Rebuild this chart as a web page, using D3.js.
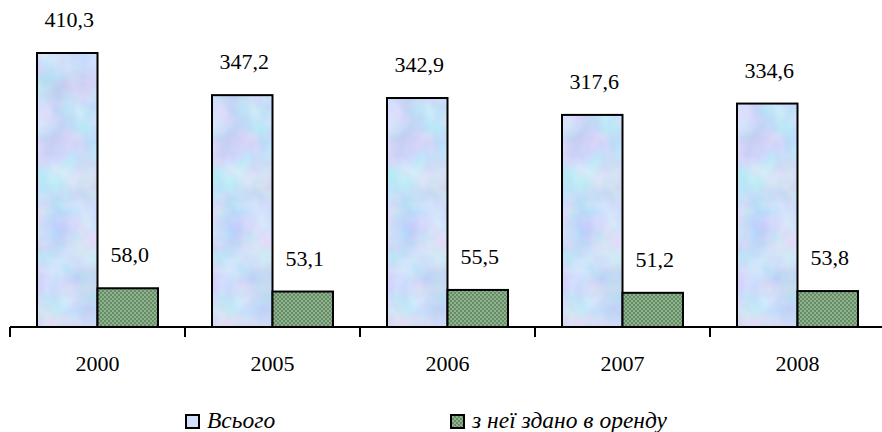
<!DOCTYPE html>
<html>
<head>
<meta charset="utf-8">
</head>
<body style="margin:0; font-family: 'Liberation Serif', 'Times New Roman', serif;">
<script src="https://d3js.org/d3.v7.min.js"></script>
<script>
const years = ['2000', '2005', '2006', '2007', '2008'];
const totalValues = [410.3, 347.2, 342.9, 317.6, 334.6];
const rentedValues = [58.0, 53.1, 55.5, 51.2, 53.8];
const seriesNames = ['Всього', 'з неї здано в оренду'];

const width = 882, height = 432;
const baseY = 327;
const fontName = '"Liberation Serif"';

const svg = d3.select('body').append('svg')
  .attr('width', width)
  .attr('height', height)
  .style('display', 'block')
  .style('font-family', fontName);

const defs = svg.append('defs');

// marble-like light blue texture
const marble = defs.append('filter')
  .attr('id', 'marble')
  .attr('color-interpolation-filters', 'sRGB')
  .attr('x', 0).attr('y', 0).attr('width', 1).attr('height', 1);
marble.append('feTurbulence')
  .attr('type', 'fractalNoise')
  .attr('baseFrequency', 0.03)
  .attr('numOctaves', 3)
  .attr('seed', 7)
  .attr('result', 'noise');
marble.append('feColorMatrix')
  .attr('in', 'noise')
  .attr('type', 'matrix')
  .attr('values', '0.32 0 0 0 0.64  0 0.22 0 0 0.76  0 0 0.08 0 0.93  0 0 0 0 1')
  .attr('result', 'col');
marble.append('feComposite')
  .attr('in', 'col')
  .attr('in2', 'SourceGraphic')
  .attr('operator', 'in');

// green checkered texture
const check = defs.append('pattern')
  .attr('id', 'check')
  .attr('patternUnits', 'userSpaceOnUse')
  .attr('width', 4).attr('height', 4);
check.append('rect').attr('width', 4).attr('height', 4).attr('fill', '#658c65');
check.append('rect').attr('width', 2).attr('height', 2).attr('fill', '#8db28d');
check.append('rect').attr('x', 2).attr('y', 2).attr('width', 2).attr('height', 2).attr('fill', '#8db28d');

const x = d3.scaleBand().domain(years).range([10, 885]);
const xSub = d3.scaleBand().domain([0, 1]).range([27, 148]);
const y = d3.scaleLinear().domain([0, 450]).range([baseY, baseY - 300.5]);

const rows = years.map((yr, i) => ({ year: yr, vals: [totalValues[i], rentedValues[i]] }));

const groups = svg.selectAll('g.cat')
  .data(rows)
  .join('g')
  .attr('class', 'cat')
  .attr('transform', d => `translate(${x(d.year)},0)`);

// blue bars: texture rect + outline
groups.append('rect')
  .attr('x', xSub(0))
  .attr('y', d => y(d.vals[0]))
  .attr('width', xSub.bandwidth())
  .attr('height', d => baseY - y(d.vals[0]))
  .attr('fill', '#cfe0f8')
  .attr('filter', 'url(#marble)');
groups.append('rect')
  .attr('x', xSub(0))
  .attr('y', d => y(d.vals[0]))
  .attr('width', xSub.bandwidth())
  .attr('height', d => baseY - y(d.vals[0]))
  .attr('fill', 'none')
  .attr('stroke', '#000')
  .attr('stroke-width', 2);

groups.append('rect')
  .attr('x', xSub(1))
  .attr('y', d => y(d.vals[1]))
  .attr('width', xSub.bandwidth())
  .attr('height', d => baseY - y(d.vals[1]))
  .attr('fill', 'url(#check)')
  .attr('stroke', '#000')
  .attr('stroke-width', 2);

// value labels
[0, 1].forEach(s => {
  groups.append('text')
    .attr('x', xSub(s) + xSub.bandwidth() / 2 + 2)
    .attr('y', d => y(d.vals[s]) - 26)
    .attr('text-anchor', 'middle')
    .style('font-family', fontName)
    .style('font-size', '22px')
    .text(d => d3.format('.1f')(d.vals[s]).replace('.', ','));
});

// axis
const axis = svg.append('g');
axis.append('line')
  .attr('x1', 10).attr('x2', 885)
  .attr('y1', baseY).attr('y2', baseY)
  .attr('stroke', '#000').attr('stroke-width', 2);
axis.selectAll('line.tick')
  .data(years.concat(['end']))
  .join('line')
  .attr('class', 'tick')
  .attr('x1', (d, i) => 10 + i * x.step())
  .attr('x2', (d, i) => 10 + i * x.step())
  .attr('y1', baseY).attr('y2', baseY + 10)
  .attr('stroke', '#000').attr('stroke-width', 2);
axis.selectAll('text')
  .data(years)
  .join('text')
  .attr('x', d => x(d) + x.bandwidth() / 2)
  .attr('y', 371)
  .attr('text-anchor', 'middle')
  .style('font-family', fontName)
  .style('font-size', '22px')
  .text(d => d);

// legend
const legendX = [185, 450];
const legend = svg.append('g');
seriesNames.forEach((name, i) => {
  legend.append('rect')
    .attr('x', legendX[i] + 1).attr('y', 415)
    .attr('width', 13).attr('height', 13)
    .attr('fill', i === 0 ? '#cfe0f8' : 'url(#check)')
    .attr('stroke', '#000').attr('stroke-width', 2);
  legend.append('text')
    .attr('x', legendX[i] + 22)
    .attr('y', 428)
    .style('font-family', fontName)
    .style('font-size', '23.5px')
    .style('font-style', 'italic')
    .text(name);
});
</script>
</body>
</html>
